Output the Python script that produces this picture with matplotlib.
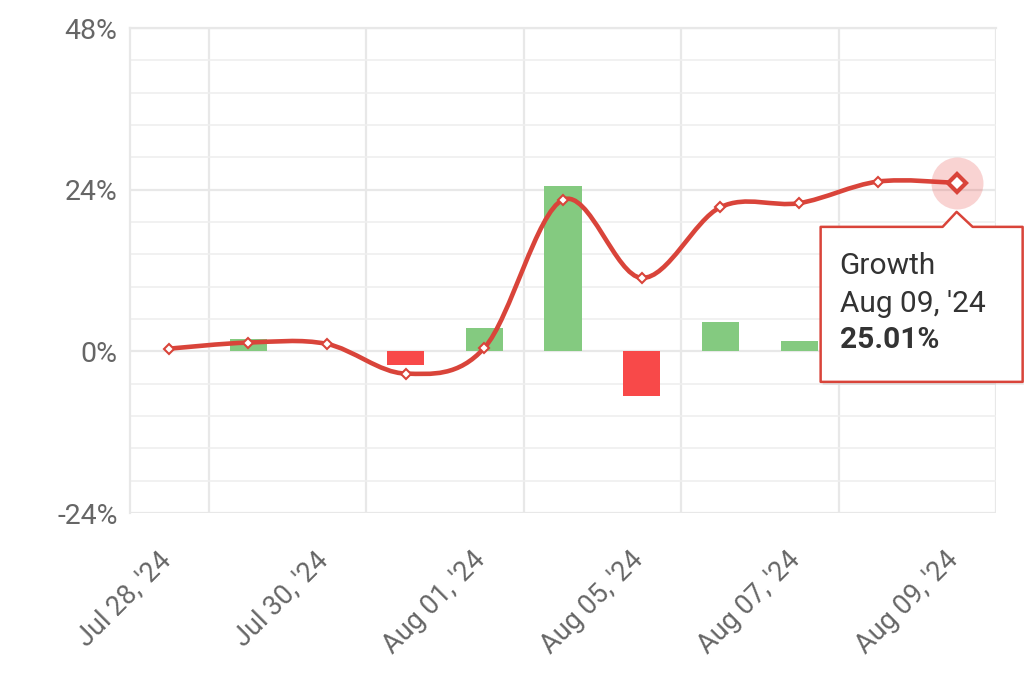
import numpy as np
import matplotlib

matplotlib.use("Agg")
import matplotlib.pyplot as plt
import matplotlib.transforms as mtransforms
from matplotlib.path import Path
from matplotlib.patches import PathPatch, Polygon

plt.rcParams["font.family"] = ["Roboto", "DejaVu Sans"]

# cumulative growth (%) per day, and the daily change bars (%)
growth = [0.4, 1.3, 1.1, -3.3, 0.5, 22.5, 10.9, 21.4, 22.0, 25.2, 25.01]
daily = [0.0, 1.9, 0.0, -2.0, 3.5, 24.5, -6.7, 4.3, 1.5, 2.7, 0.0]
tick_pos = [0.5, 2.5, 4.5, 6.5, 8.5, 10.5]
tick_labels = ["Jul 28, '24", "Jul 30, '24", "Aug 01, '24",
               "Aug 05, '24", "Aug 07, '24", "Aug 09, '24"]
y_major = [-24, 0, 24, 48]
tip_title = "Growth"
tip_date = "Aug 09, '24"
tip_value = "25.01%"

LINE = "#d9443a"
GREEN = "#84ca80"
RED = "#f84949"
GRID = "#e8e8e8"
TEXT = "#666666"

fig = plt.figure(figsize=(10.24, 6.9), dpi=100)
ax = fig.add_axes([130 / 1024, 1 - 513 / 690, 866 / 1024, 485 / 690])

x = np.arange(len(growth))
ax.set_xlim(-0.5, 10.5)
ax.set_ylim(-24, 48)

# grid
ax.set_yticks(y_major)
ax.set_yticklabels([f"{v}%" for v in y_major])
ax.set_yticks(np.arange(-24, 48.1, 4.8), minor=True)
ax.grid(axis="y", which="minor", color="#efefef", linewidth=1.2, zorder=0)
ax.grid(axis="y", which="major", color=GRID, linewidth=1.6, zorder=0)
ax.set_xticks(tick_pos)
ax.set_xticklabels([])
ax.grid(axis="x", color=GRID, linewidth=1.6, zorder=0)
ax.tick_params(which="both", length=0, colors=TEXT)
ax.tick_params(axis="y", pad=9, labelsize=20.5)
for s in ["right", "bottom"]:
    ax.spines[s].set_visible(False)
for s in ["left", "top"]:
    ax.spines[s].set_color(GRID)
    ax.spines[s].set_linewidth(1.6)

# rotated date labels, sitting left of their grid line
shift = mtransforms.ScaledTranslation(-42 / 100, -43 / 100, fig.dpi_scale_trans)
for pos, lab in zip(tick_pos, tick_labels):
    ax.text(pos, 0, lab, transform=ax.get_xaxis_transform() + shift,
            rotation=45, rotation_mode="anchor", ha="right", va="center",
            fontsize=19.5, color=TEXT, clip_on=False)

# bars
colors = [GREEN if v >= 0 else RED for v in daily]
ax.bar(x, daily, width=0.47, color=colors, zorder=2)

# smooth line (Catmull-Rom as cubic Bezier)
pts = np.column_stack([x, growth]).astype(float)
verts = [tuple(pts[0])]
codes = [Path.MOVETO]
for i in range(len(pts) - 1):
    p0 = pts[max(i - 1, 0)]
    p1 = pts[i]
    p2 = pts[i + 1]
    p3 = pts[min(i + 2, len(pts) - 1)]
    c1 = p1 + (p2 - p0) / 6
    c2 = p2 - (p3 - p1) / 6
    verts += [tuple(c1), tuple(c2), tuple(p2)]
    codes += [Path.CURVE4] * 3
ax.add_patch(PathPatch(Path(verts, codes), fill=False, edgecolor=LINE,
                       linewidth=3.3, capstyle="round", zorder=3))
ax.plot(x[:-1], growth[:-1], linestyle="none", marker="D", markersize=4.8,
        markerfacecolor="white", markeredgecolor=LINE, markeredgewidth=1.5, zorder=4)

# highlighted last point
ax.scatter([x[-1]], [growth[-1]], s=1400, color="#e53935", alpha=0.22,
           linewidths=0, zorder=4)
ax.plot([x[-1]], [growth[-1]], linestyle="none", marker="D", markersize=9.5,
        markerfacecolor="white", markeredgecolor=LINE, markeredgewidth=3.0, zorder=5)

# tooltip
fig.canvas.draw()
px, py = ax.transData.transform((x[-1], growth[-1]))
to_fig = fig.transFigure.inverted()


def fpt(dx, dy):
    return to_fig.transform((px + dx, py + dy))


box = [(-136, -44), (-14, -44), (0, -29), (16, -44), (66, -44),
       (66, -199), (-136, -199)]
shadow = Polygon([fpt(dx + 2, dy - 3) for dx, dy in box], closed=True,
                 transform=fig.transFigure, facecolor="#000000", alpha=0.08,
                 edgecolor="none", zorder=6)
fig.add_artist(shadow)
tip = Polygon([fpt(dx, dy) for dx, dy in box], closed=True,
              transform=fig.transFigure, facecolor="white", edgecolor=LINE,
              linewidth=1.8, joinstyle="round", zorder=7)
fig.add_artist(tip)
for dy, txt, weight in [(-91, tip_title, "normal"), (-129, tip_date, "normal"),
                        (-165, tip_value, "bold")]:
    tx, ty = fpt(-117, dy)
    fig.text(tx, ty, txt, fontsize=21.5, color="#333333", fontweight=weight,
             va="baseline", ha="left", zorder=8)

fig.savefig("out.png", dpi=100)
